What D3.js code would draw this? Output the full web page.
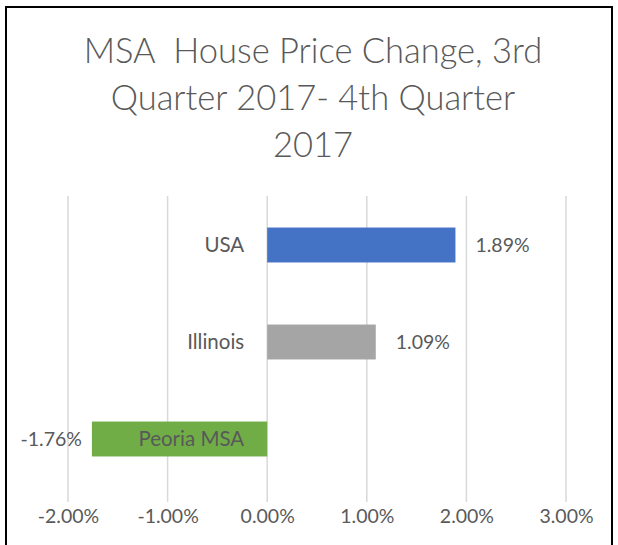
<!DOCTYPE html>
<html>
<head>
<meta charset="utf-8">
<script src="https://cdn.jsdelivr.net/npm/d3@7"></script>
<style>
  body { margin: 0; background: #fff; }
  text { font-family: Lato, "Open Sans", sans-serif; fill: #595959; white-space: pre; }
</style>
</head>
<body>
<script>
// chart values
var categories = ["USA", "Illinois", "Peoria MSA"];
var values = [1.89, 1.09, -1.76];
var barColors = ["#4472c4", "#a5a5a5", "#70ad47"];
var tickValues = [-2, -1, 0, 1, 2, 3];
var titleLines = ["MSA  House Price Change, 3rd", "Quarter 2017- 4th Quarter", "2017"];

var W = 618, H = 545;
var margin = {top: 196, right: 52, bottom: 43, left: 68};

var pct = function(d) { return d3.format(".2f")(d).replace("\u2212", "-") + "%"; };

var svg = d3.select("body").append("svg")
    .attr("width", W)
    .attr("height", H);

// outer frame
svg.append("rect")
    .attr("x", 6).attr("y", 7)
    .attr("width", 606).attr("height", 560)
    .attr("fill", "none")
    .attr("stroke", "#000")
    .attr("stroke-width", 2);

// title
svg.append("g").selectAll("text")
    .data(titleLines)
  .enter().append("text")
    .attr("x", 313)
    .attr("y", function(d, i) { return 63 + i * 47; })
    .attr("text-anchor", "middle")
    .style("font-size", "34.5px")
    .style("font-weight", 300)
    .text(function(d) { return d; });

var x = d3.scaleLinear()
    .domain([-2, 3])
    .range([margin.left, W - margin.right]);

var y = d3.scaleBand()
    .domain(categories)
    .range([196.5, 487.5])
    .paddingInner(0.64)
    .paddingOuter(0.32);

// gridlines
svg.append("g").selectAll("line")
    .data(tickValues)
  .enter().append("line")
    .attr("x1", function(d) { return x(d); })
    .attr("x2", function(d) { return x(d); })
    .attr("y1", margin.top)
    .attr("y2", H - margin.bottom)
    .attr("stroke", "#d9d9d9")
    .attr("stroke-width", 1.5);

// x axis labels
var xAxis = d3.axisBottom(x)
    .tickValues(tickValues)
    .tickSize(0)
    .tickPadding(7)
    .tickFormat(pct);

var ax = svg.append("g")
    .attr("transform", "translate(0," + (H - margin.bottom) + ")")
    .call(xAxis);
ax.select(".domain").remove();
ax.selectAll("text")
    .style("font-size", "19.5px")
    .style("font-family", "Lato, 'Open Sans', sans-serif")
    .attr("fill", "#595959");

// bars
svg.append("g").selectAll("rect")
    .data(values)
  .enter().append("rect")
    .attr("x", function(d) { return x(Math.min(0, d)); })
    .attr("y", function(d, i) { return y(categories[i]); })
    .attr("width", function(d) { return Math.abs(x(d) - x(0)); })
    .attr("height", y.bandwidth())
    .attr("fill", function(d, i) { return barColors[i]; });

// category labels (right aligned left of zero)
svg.append("g").selectAll("text")
    .data(categories)
  .enter().append("text")
    .attr("x", x(0) - 23)
    .attr("y", function(d) { return y(d) + y.bandwidth() / 2; })
    .attr("dy", "0.35em")
    .attr("text-anchor", "end")
    .style("font-size", "20.5px")
    .text(function(d) { return d; });

// value labels
svg.append("g").selectAll("text")
    .data(values)
  .enter().append("text")
    .attr("x", function(d) { return d >= 0 ? x(d) + 20 : x(d) - 10; })
    .attr("y", function(d, i) { return y(categories[i]) + y.bandwidth() / 2; })
    .attr("dy", "0.35em")
    .attr("text-anchor", function(d) { return d >= 0 ? "start" : "end"; })
    .style("font-size", "19.5px")
    .text(pct);
</script>
</body>
</html>
